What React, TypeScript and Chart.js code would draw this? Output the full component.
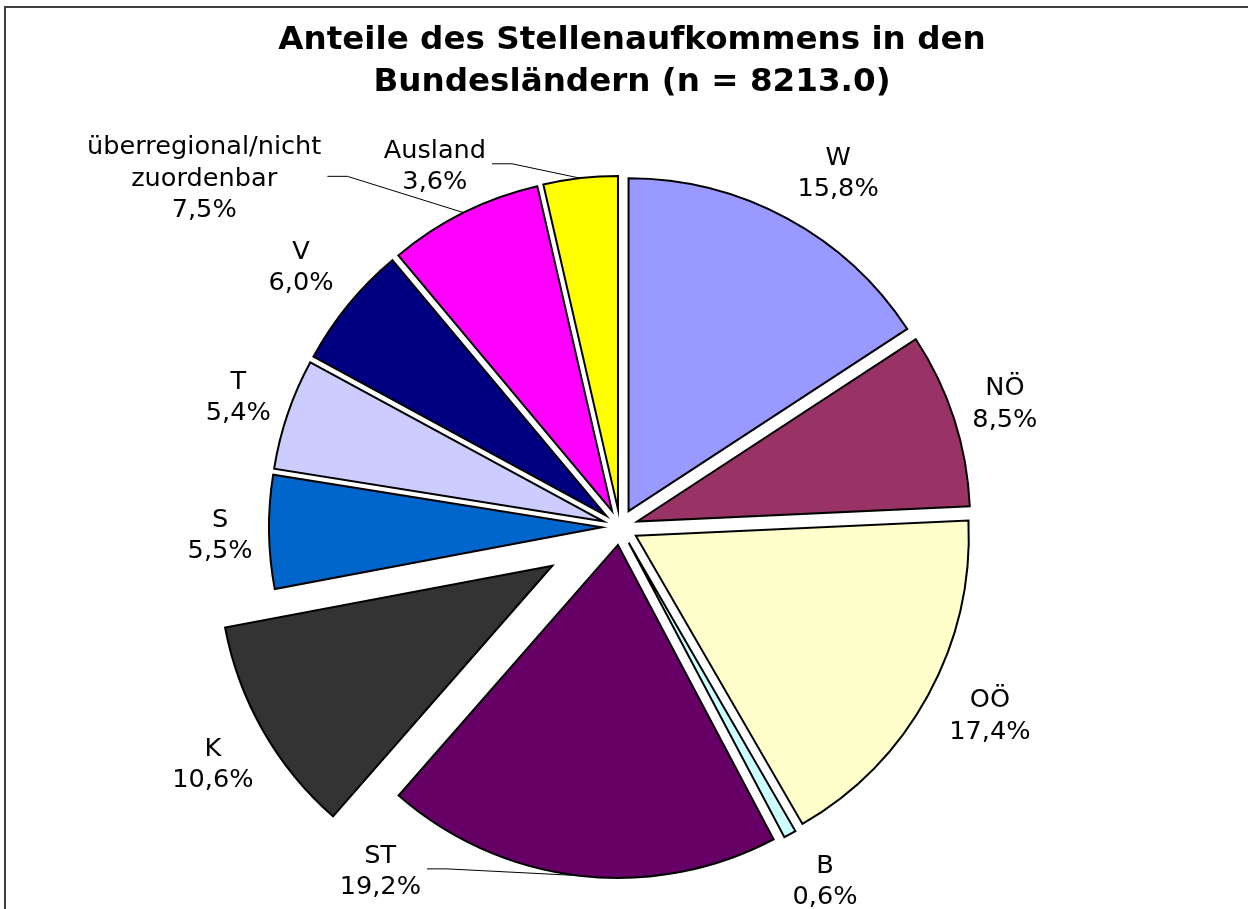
import React, { useEffect, useRef } from 'react';
import { Chart, PieController, ArcElement } from 'chart.js';

// ---- data ----
const categories = ['W', 'NÖ', 'OÖ', 'B', 'ST', 'K', 'S', 'T', 'V', 'überregional/nicht zuordenbar', 'Ausland'];
const labelLines = [['W'], ['NÖ'], ['OÖ'], ['B'], ['ST'], ['K'], ['S'], ['T'], ['V'], ['überregional/nicht', 'zuordenbar'], ['Ausland']];
const shares = [15.8, 8.5, 17.4, 0.6, 19.2, 10.6, 5.5, 5.4, 6.0, 7.5, 3.6];
const titleLines = ['Anteile des Stellenaufkommens in den', 'Bundesländern (n = 8213.0)'];

// ---- styles ----
const colors = ['#9999FF', '#993366', '#FFFFCC', '#CCFFFF', '#660066', '#333333', '#0066CC', '#CCCCFF', '#000080', '#FF00FF', '#FFFF00'];
const explode = [18, 18, 18, 18, 18, 78, 18, 18, 18, 18, 18];
// label placement: [angle in degrees clockwise from 12 o'clock, distance from pie centre]
const labelPolar: [number, number][] = [
  [31.7, 415], [72.3, 404], [117.1, 415.5], [150, 410], [214.8, 420], [239.7, 471.5],
  [268.7, 400], [288.7, 403], [309.1, 411], [309.9, 542], [332.8, 405],
];
const hasLeader = [false, false, false, false, true, false, false, false, false, true, true];
const FONT = '"DejaVu Sans", Verdana, sans-serif';
const LABEL_SIZE = 25.6;
const LINE_GAP = 31.5;

class ExplodedArc extends ArcElement {
  static id = 'explodedArc';
  draw(ctx: CanvasRenderingContext2D) {
    const self: any = this;
    const { x, y, startAngle, endAngle, outerRadius } = self;
    const o = self.options;
    const t = o.offset || 0;
    const mid = (startAngle + endAngle) / 2;
    const cx = x + Math.cos(mid) * t;
    const cy = y + Math.sin(mid) * t;
    ctx.save();
    ctx.beginPath();
    ctx.moveTo(cx, cy);
    ctx.arc(cx, cy, outerRadius, startAngle, endAngle);
    ctx.closePath();
    ctx.fillStyle = o.backgroundColor;
    ctx.fill();
    ctx.lineWidth = o.borderWidth;
    ctx.strokeStyle = o.borderColor;
    ctx.lineJoin = 'miter';
    ctx.stroke();
    ctx.restore();
  }
}

class ExplodedPieController extends PieController {
  static id = 'explodedPie';
  static defaults = { dataElementType: 'explodedArc' };
}

Chart.register(ExplodedArc as any, ExplodedPieController as any);

const decor = {
  id: 'decor',
  beforeDraw(chart: any) {
    const ctx = chart.ctx as CanvasRenderingContext2D;
    ctx.save();
    ctx.fillStyle = '#ffffff';
    ctx.fillRect(0, 0, chart.width, chart.height);
    ctx.strokeStyle = '#404040';
    ctx.lineWidth = 2;
    ctx.strokeRect(5, 7, chart.width + 20, chart.height + 20);
    ctx.restore();
  },
  afterDraw(chart: any) {
    const ctx = chart.ctx as CanvasRenderingContext2D;
    const meta = chart.getDatasetMeta(0);
    const arcs = meta.data as any[];
    const cx = arcs[0].x;
    const cy = arcs[0].y;
    const R = arcs[0].outerRadius;
    ctx.save();
    // title
    ctx.fillStyle = '#000';
    ctx.textAlign = 'center';
    ctx.textBaseline = 'middle';
    ctx.font = `bold 32.6px ${FONT}`;
    titleLines.forEach((l, i) => ctx.fillText(l, chart.width / 2 + 8, 41 + i * 42));

    // labels
    ctx.font = `${LABEL_SIZE}px ${FONT}`;
    arcs.forEach((arc, i) => {
      const lines = [...labelLines[i], shares[i].toFixed(1).replace('.', ',') + '%'];
      const [deg, dist] = labelPolar[i];
      const a = (deg * Math.PI) / 180;
      const lx = cx + dist * Math.sin(a);
      const ly = cy - dist * Math.cos(a);
      const y0 = ly - ((lines.length - 1) * LINE_GAP) / 2;
      ctx.fillStyle = '#000';
      lines.forEach((l, k) => ctx.fillText(l, lx, y0 + k * LINE_GAP));
      if (hasLeader[i]) {
        const w = Math.max(...lines.map((l) => ctx.measureText(l).width));
        const sx = lx + w / 2 + 6;
        const sy = ly - 3;
        const mid = (arc.startAngle + arc.endAngle) / 2;
        const ex = cx + Math.cos(mid) * (R + explode[i]);
        const ey = cy + Math.sin(mid) * (R + explode[i]);
        ctx.beginPath();
        ctx.moveTo(sx, sy);
        ctx.lineTo(sx + 20, sy);
        ctx.lineTo(ex, ey);
        ctx.strokeStyle = '#000';
        ctx.lineWidth = 1;
        ctx.stroke();
      }
    });
    ctx.restore();
  },
};

export default function App() {
  const ref = useRef<HTMLCanvasElement>(null);
  useEffect(() => {
    if (!ref.current) return;
    const chart = new Chart(ref.current, {
      type: 'explodedPie' as any,
      data: {
        labels: categories,
        datasets: [
          {
            data: shares,
            backgroundColor: colors,
            borderColor: '#000000',
            borderWidth: 2,
            offset: explode,
            radius: 333,
          } as any,
        ],
      },
      options: {
        responsive: false,
        animation: false,
        events: [],
        layout: { padding: { left: 0, right: 8, top: 145, bottom: 0 } },
        plugins: { legend: { display: false }, tooltip: { enabled: false } },
      } as any,
      plugins: [decor],
    });
    return () => chart.destroy();
  }, []);
  return (
    <div style={{ position: 'absolute', left: 0, top: 0, width: 1248, height: 909, background: '#fff' }}>
      <canvas ref={ref} width={1248} height={909} style={{ display: 'block' }} />
    </div>
  );
}
